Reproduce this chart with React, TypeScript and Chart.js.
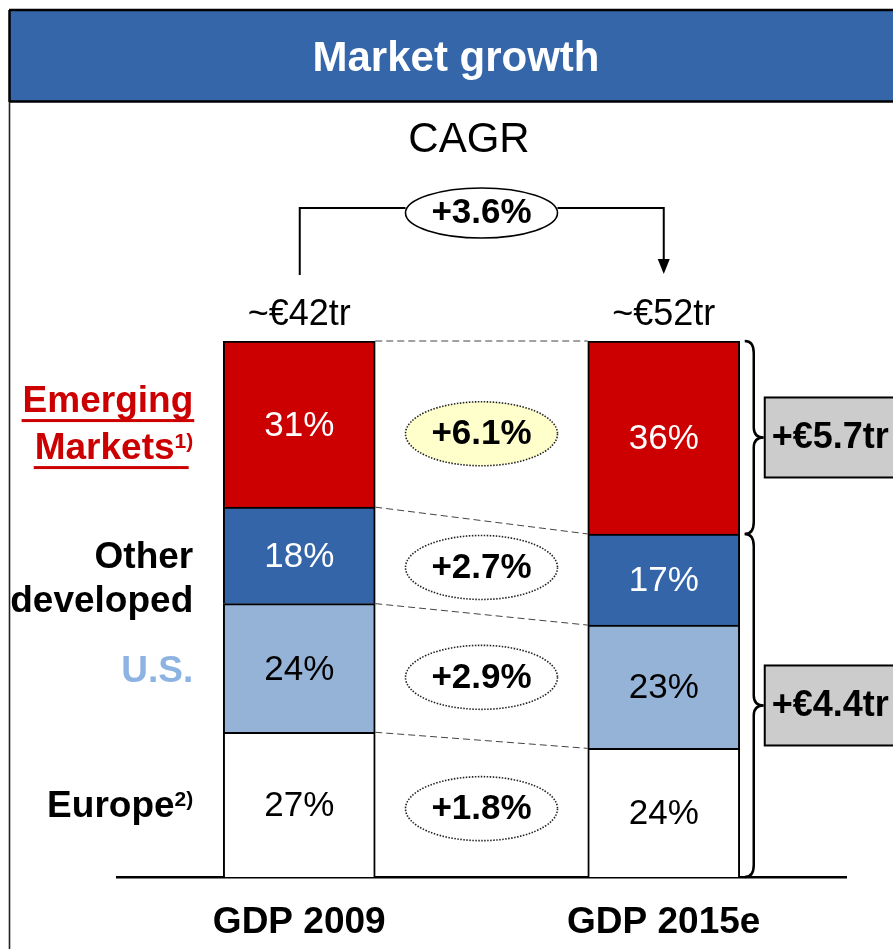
import React, { useEffect, useRef } from "react";
import { Chart, registerables } from "chart.js";

Chart.register(...registerables);

// ---------------- data ----------------
const chartTitle = "Market growth";
const cagrTitle = "CAGR";
const categories = ["GDP 2009", "GDP 2015e"];
const regionNames = ["Europe", "U.S.", "Other developed", "Emerging Markets"];
const europeShare = [27, 24];
const usShare = [24, 23];
const otherDevelopedShare = [18, 17];
const emergingShare = [31, 36];
const totalLabels = ["~€42tr", "~€52tr"];
const regionCagr = ["+1.8%", "+2.9%", "+2.7%", "+6.1%"]; // Europe, U.S., Other developed, Emerging
const totalCagr = "+3.6%";
const incrementLabels = ["+€5.7tr", "+€4.4tr"];

const FONT = '"Liberation Sans", Arial, Helvetica, sans-serif';
const RED = "#CC0000";
const BLUE = "#3465A8";
const LIGHT_BLUE = "#95B3D7";

const overlayPlugin = {
  id: "overlay",
  afterDraw(chart: any) {
    const ctx: CanvasRenderingContext2D = chart.ctx;
    const xs = chart.scales.x;
    const metas = [0, 1, 2, 3].map((i) => chart.getDatasetMeta(i));
    const el = (ds: number, j: number) => metas[ds].data[j] as any;
    const c0 = xs.getPixelForValue(0);
    const c1 = xs.getPixelForValue(1);
    const half = el(0, 0).width / 2;
    const b1L = c0 - half;
    const b1R = c0 + half;
    const b2L = c1 - half;
    const b2R = c1 + half;
    const segC = (ds: number, j: number) => (el(ds, j).y + el(ds, j).base) / 2;
    const seriesVals = [europeShare, usShare, otherDevelopedShare, emergingShare];

    ctx.save();

    // ---- header ----
    ctx.fillStyle = "#3466A9";
    ctx.fillRect(9, 10, 900, 92);
    ctx.strokeStyle = "#000";
    ctx.lineWidth = 2.5;
    ctx.beginPath();
    ctx.moveTo(9, 10);
    ctx.lineTo(900, 10);
    ctx.moveTo(9, 101.5);
    ctx.lineTo(900, 101.5);
    ctx.moveTo(9.5, 10);
    ctx.lineTo(9.5, 102);
    ctx.stroke();
    ctx.lineWidth = 1.6;
    ctx.strokeStyle = "#222";
    ctx.beginPath();
    ctx.moveTo(9.5, 102);
    ctx.lineTo(9.5, 960);
    ctx.stroke();

    ctx.fillStyle = "#fff";
    ctx.font = `bold 42px ${FONT}`;
    ctx.textAlign = "center";
    ctx.textBaseline = "middle";
    ctx.fillText(chartTitle, 456, 59);

    // ---- CAGR title ----
    ctx.fillStyle = "#000";
    ctx.font = `42px ${FONT}`;
    ctx.fillText(cagrTitle, 469, 140);

    // ---- total CAGR bracket ----
    const ecx = (b1R + b2L) / 2;
    const by = 208;
    ctx.strokeStyle = "#000";
    ctx.lineWidth = 2;
    ctx.beginPath();
    ctx.moveTo(c0 + 0.5, 275);
    ctx.lineTo(c0 + 0.5, by);
    ctx.lineTo(ecx - 76, by);
    ctx.moveTo(ecx + 76, by);
    ctx.lineTo(c1, by);
    ctx.lineTo(c1, 262);
    ctx.stroke();
    ctx.fillStyle = "#000";
    ctx.beginPath();
    ctx.moveTo(c1 - 6, 259);
    ctx.lineTo(c1 + 6, 259);
    ctx.lineTo(c1, 274);
    ctx.closePath();
    ctx.fill();
    ctx.beginPath();
    ctx.ellipse(ecx, 213, 76, 25, 0, 0, Math.PI * 2);
    ctx.fillStyle = "#fff";
    ctx.fill();
    ctx.lineWidth = 1.6;
    ctx.stroke();
    ctx.fillStyle = "#000";
    ctx.font = `bold 35px ${FONT}`;
    ctx.fillText(totalCagr, ecx, 213);

    // ---- totals above bars ----
    ctx.font = `36px ${FONT}`;
    ctx.fillText(totalLabels[0], c0, 315);
    ctx.fillText(totalLabels[1], c1, 315);

    // ---- dashed connectors ----
    ctx.strokeStyle = "#444";
    ctx.lineWidth = 1;
    ctx.setLineDash([7, 4]);
    ctx.beginPath();
    for (let ds = 0; ds < 4; ds++) {
      ctx.moveTo(b1R, el(ds, 0).y);
      ctx.lineTo(b2L, el(ds, 1).y);
    }
    ctx.stroke();
    ctx.setLineDash([]);

    // ---- segment labels ----
    ctx.font = `35px ${FONT}`;
    for (let j = 0; j < 2; j++) {
      for (let ds = 0; ds < 4; ds++) {
        ctx.fillStyle = ds >= 2 ? "#fff" : "#000";
        ctx.fillText(`${seriesVals[ds][j]}%`, c0 + (c1 - c0) * j, segC(ds, j) + 2);
      }
    }

    // ---- regional CAGR ellipses ----
    for (let ds = 0; ds < 4; ds++) {
      const cy = (segC(ds, 0) + segC(ds, 1)) / 2 + (ds === 3 ? 3 : 0);
      ctx.beginPath();
      ctx.ellipse(ecx, cy, 76, 32, 0, 0, Math.PI * 2);
      ctx.fillStyle = ds === 3 ? "#FFFFCC" : "#fff";
      ctx.fill();
      ctx.setLineDash([1.5, 1.5]);
      ctx.lineWidth = 1.6;
      ctx.strokeStyle = "#222";
      ctx.stroke();
      ctx.setLineDash([]);
      ctx.fillStyle = "#000";
      ctx.font = `bold 35px ${FONT}`;
      ctx.fillText(regionCagr[ds], ecx, cy + 1);
    }

    // ---- left region labels ----
    const rx = b1L - 30;
    ctx.textAlign = "right";
    ctx.textBaseline = "alphabetic";
    const mainFont = `bold 37px ${FONT}`;
    const supFont = `bold 21px ${FONT}`;
    const drawLabel = (text: string, sup: string, base: number, color: string, underline: boolean) => {
      ctx.font = supFont;
      const sw = sup ? ctx.measureText(sup).width : 0;
      ctx.fillStyle = color;
      if (sup) ctx.fillText(sup, rx, base - 11);
      ctx.font = mainFont;
      const mw = ctx.measureText(text).width;
      ctx.fillText(text, rx - sw, base);
      if (underline) {
        ctx.fillRect(rx - sw - mw - 1, base + 7, mw + sw * 0.7 + 2, 3);
      }
    };
    const emC = segC(3, 0);
    drawLabel("Emerging", "", emC - 12, RED, true);
    drawLabel("Markets", "1)", emC + 35, RED, true);
    const otC = segC(2, 0);
    drawLabel("Other", "", otC + 13, "#000", false);
    drawLabel("developed", "", otC + 57, "#000", false);
    drawLabel("U.S.", "", segC(1, 0) + 14, "#8DB3E2", false);
    drawLabel("Europe", "2)", segC(0, 0) + 12, "#000", false);

    // ---- braces ----
    const brace = (top: number, bottom: number) => {
      const x0 = b2R + 5;
      const x1 = x0 + 9;
      const xt = x0 + 19;
      const mid = (top + bottom) / 2;
      ctx.beginPath();
      ctx.moveTo(x0, top);
      ctx.quadraticCurveTo(x1, top, x1, top + 12);
      ctx.lineTo(x1, mid - 10);
      ctx.quadraticCurveTo(x1, mid, xt, mid);
      ctx.quadraticCurveTo(x1, mid, x1, mid + 10);
      ctx.lineTo(x1, bottom - 12);
      ctx.quadraticCurveTo(x1, bottom, x0, bottom);
      ctx.strokeStyle = "#000";
      ctx.lineWidth = 2.5;
      ctx.stroke();
      return mid;
    };
    const m1 = brace(el(3, 1).y, el(3, 1).base);
    const m2 = brace(el(2, 1).y, el(0, 1).base);

    const box = (mid: number, text: string) => {
      const bx = b2R + 25;
      ctx.fillStyle = "#CCCCCC";
      ctx.fillRect(bx, mid - 40, 160, 80);
      ctx.strokeStyle = "#000";
      ctx.lineWidth = 2;
      ctx.strokeRect(bx, mid - 40, 160, 80);
      ctx.fillStyle = "#000";
      ctx.font = `bold 36px ${FONT}`;
      ctx.textAlign = "left";
      ctx.textBaseline = "middle";
      ctx.fillText(text, bx + 7, mid + 1);
    };
    box(m1, incrementLabels[0]);
    box(m2, incrementLabels[1]);

    ctx.restore();
  },
};

export default function App() {
  const ref = useRef<HTMLCanvasElement>(null);

  useEffect(() => {
    if (!ref.current) return;
    const border = { top: 2, left: 2, right: 2, bottom: 0 };
    const chart = new Chart(ref.current, {
      type: "bar",
      data: {
        labels: categories,
        datasets: [
          { label: regionNames[0], data: europeShare, backgroundColor: "#FFFFFF" },
          { label: regionNames[1], data: usShare, backgroundColor: LIGHT_BLUE },
          { label: regionNames[2], data: otherDevelopedShare, backgroundColor: BLUE },
          { label: regionNames[3], data: emergingShare, backgroundColor: RED },
        ].map((d) => ({
          ...d,
          borderColor: "#000",
          borderWidth: border,
          borderSkipped: false,
          barThickness: 152,
        })),
      },
      options: {
        animation: false,
        responsive: false,
        devicePixelRatio: 1,
        layout: { padding: { left: 117, right: 47, top: 341, bottom: 0 } },
        plugins: { legend: { display: false }, tooltip: { enabled: false } },
        scales: {
          x: {
            stacked: true,
            grid: { display: false, drawTicks: false },
            border: { display: true, color: "#000", width: 2.5 },
            ticks: {
              color: "#000",
              padding: 24,
              font: { family: FONT, size: 37, weight: "bold" },
              maxRotation: 0,
            },
            afterFit: (scale: any) => {
              scale.height = 72;
            },
          },
          y: {
            stacked: true,
            display: false,
            min: 0,
            max: 100,
          },
        },
      } as any,
      plugins: [overlayPlugin],
    });
    return () => chart.destroy();
  }, []);

  return (
    <div style={{ position: "fixed", left: 0, top: 0, width: 893, height: 949, background: "#fff" }}>
      <canvas ref={ref} width={893} height={949} style={{ display: "block" }} />
    </div>
  );
}
